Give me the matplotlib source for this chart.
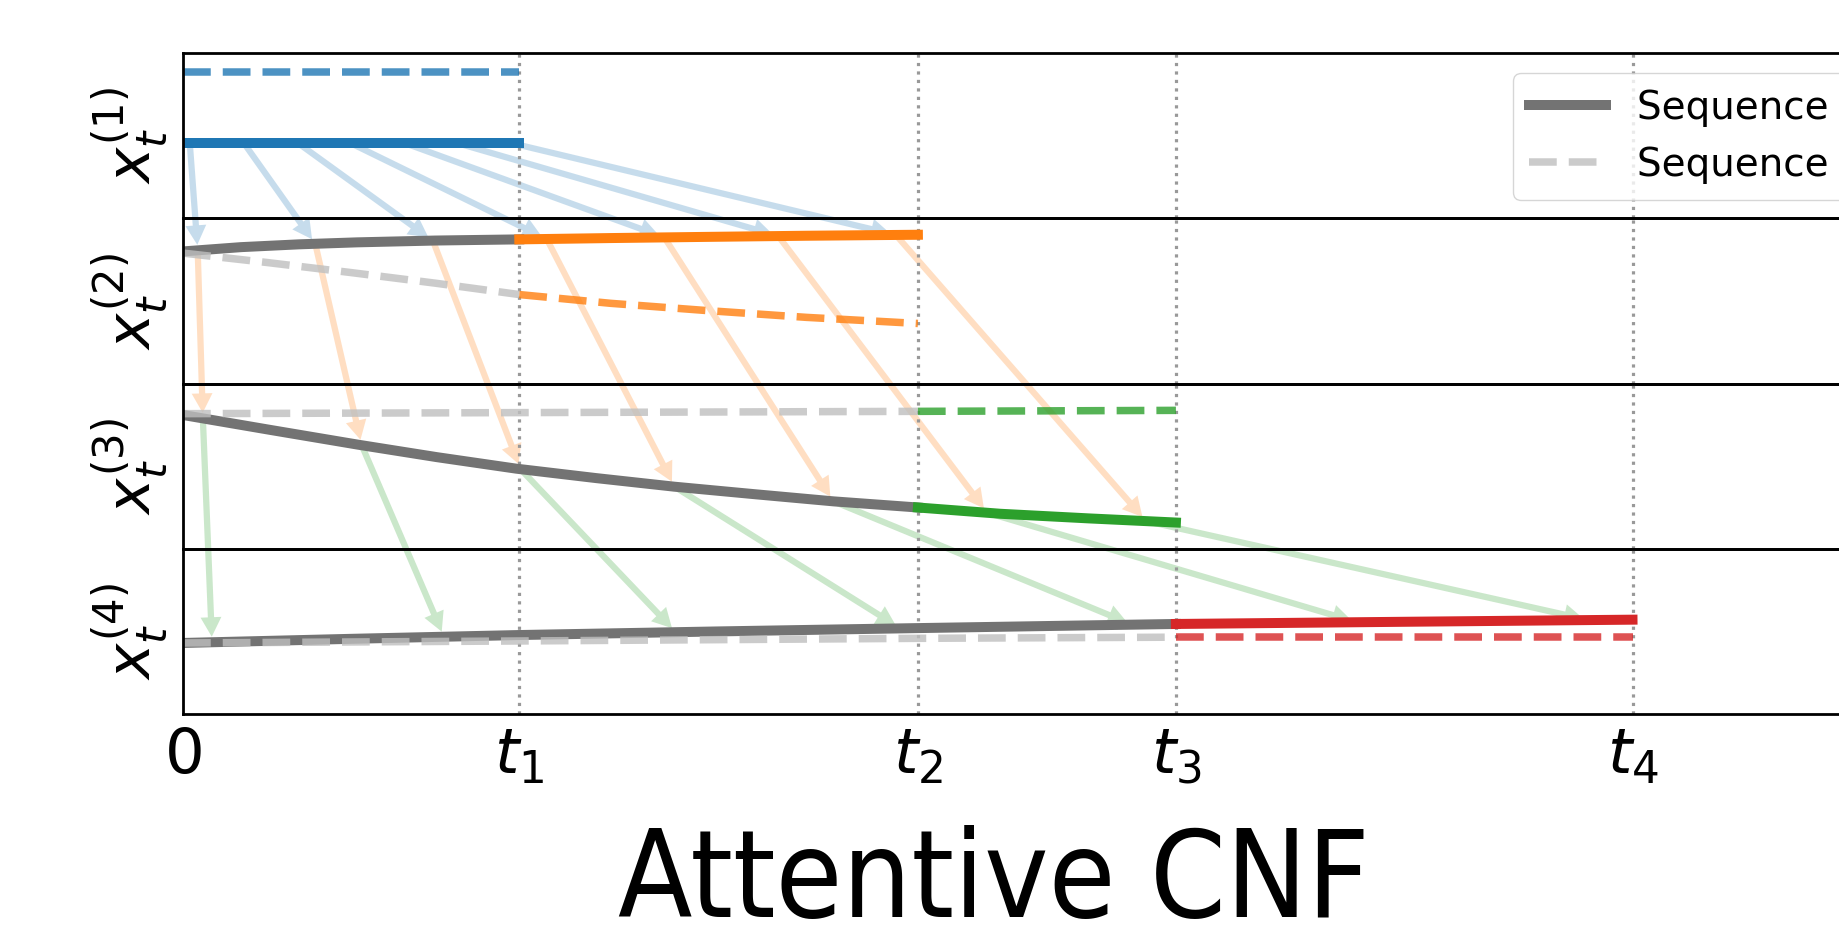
import numpy as np
import matplotlib
matplotlib.use('Agg')
import matplotlib.pyplot as plt
from matplotlib.patches import ConnectionPatch
from matplotlib.lines import Line2D

# event times t1..t4 on the shared time axis
t_events = [2.32, 5.07, 6.85, 10.0]
tick_labels = ['$0$', '$t_1$', '$t_2$', '$t_3$', '$t_4$']
row_labels = ['$x_t^{(1)}$', '$x_t^{(2)}$', '$x_t^{(3)}$', '$x_t^{(4)}$']
colors = ['tab:blue', 'tab:orange', 'tab:green', 'tab:red']
legend_labels = ['Sequence 1', 'Sequence 2']

# sequence 1 (solid) per row
solid_t = [
    [0, 2.32],
    [0, 0.4, 0.8, 1.2, 1.74, 2.32, 2.95, 3.6, 4.3, 5.07],
    [0, 0.6, 1.21, 1.75, 2.30, 2.85, 3.39, 3.95, 4.49, 5.07, 5.64, 6.25, 6.85],
    [0, 1.16, 2.32, 3.7, 5.07, 6.85, 8.4, 10.0],
]
solid_v = [
    [0.459, 0.459],
    [0.80, 0.826, 0.843, 0.855, 0.866, 0.873, 0.881, 0.888, 0.895, 0.901],
    [0.81, 0.72, 0.63, 0.555, 0.485, 0.428, 0.376, 0.33, 0.287, 0.25, 0.212, 0.184, 0.159],
    [0.43, 0.455, 0.478, 0.50, 0.52, 0.545, 0.558, 0.571],
]

# sequence 2 (dashed) per row
dash_t = [
    [0, 2.32],
    [0, 0.58, 1.16, 1.74, 2.32, 2.95, 3.6, 4.3, 5.07],
    [0, 5.07, 6.85],
    [0, 2.32, 5.07, 6.85, 10.0],
]
dash_v = [
    [0.889, 0.889],
    [0.79, 0.733, 0.672, 0.608, 0.539, 0.486, 0.443, 0.401, 0.364],
    [0.818, 0.832, 0.838],
    [0.43, 0.442, 0.458, 0.465, 0.465],
]

# where the attention arrows leave / land, as a fraction of each row's span
arrow_frac = [0.02, 0.18, 0.34, 0.495, 0.655, 0.81, 0.97]

solid_gray = '0.45'
dash_gray = '0.75'
lw_solid = 7.2
lw_dash = 5.4

fig = plt.figure(figsize=(18.39, 9.30), dpi=100)

left = 183 / 1839
width = 12 * 144.95 / 1839
h = 165.2 / 930
bottom = 1 - 714 / 930
axes = []
for k in range(4):
    ax = fig.add_axes([left, bottom + (3 - k) * h, width, h])
    ax.set_facecolor('none')
    axes.append(ax)

ticks = [0] + t_events
for k, ax in enumerate(axes):
    ax.set_xlim(0, 12)
    ax.set_ylim(0, 1)
    ax.set_yticks([])
    ax.set_xticks(ticks)
    ax.tick_params(axis='x', length=0, pad=9, labelsize=45)
    if k < 3:
        ax.set_xticklabels([])
    else:
        ax.set_xticklabels(tick_labels)
    for s in ax.spines.values():
        s.set_linewidth(2.0)
    ax.set_ylabel(row_labels[k], fontsize=43, labelpad=9)
    for t in t_events:
        ax.axvline(t, color='0.6', ls=':', lw=2.3, zorder=1)

    ts, vs = np.array(solid_t[k]), np.array(solid_v[k])
    td, vd = np.array(dash_t[k]), np.array(dash_v[k])
    t0 = 0 if k == 0 else t_events[k - 1]
    if k > 0:
        ax.plot(ts[ts <= t0], vs[ts <= t0], color=solid_gray, lw=lw_solid,
                solid_capstyle='projecting')
    ax.plot(ts[ts >= t0], vs[ts >= t0], color=colors[k], lw=lw_solid,
            solid_capstyle='projecting')
    if k > 0:
        ax.plot(td[td <= t0], vd[td <= t0], color=dash_gray, alpha=0.8,
                lw=lw_dash, ls='--')
    ax.plot(td[td >= t0], vd[td >= t0], color=colors[k], alpha=0.8,
            lw=lw_dash, ls='--')

# arrows from each row's trajectory into the next row
for k in range(3):
    for f in arrow_frac:
        ta = f * t_events[k]
        tb = f * t_events[k + 1]
        ya = np.interp(ta, solid_t[k], solid_v[k])
        yb = np.interp(tb, solid_t[k + 1], solid_v[k + 1])
        con = ConnectionPatch(xyA=(ta, ya), coordsA=axes[k].transData,
                              xyB=(tb, yb), coordsB=axes[k + 1].transData,
                              arrowstyle='simple,head_length=1.4,head_width=1.5,tail_width=0.45',
                              mutation_scale=10, color=colors[k], alpha=0.25, lw=0,
                              shrinkA=0, shrinkB=4, zorder=-1)
        fig.add_artist(con)

handles = [Line2D([], [], color=solid_gray, lw=lw_solid, solid_capstyle='projecting'),
           Line2D([], [], color=dash_gray, alpha=0.8, lw=lw_dash, ls='--')]
axes[0].legend(handles, legend_labels, loc='upper left', fontsize=28,
               bbox_to_anchor=(1513 / 1839, 1 - 73 / 930),
               bbox_transform=fig.transFigure, borderaxespad=0)

fig.text(993.5 / 1839, 1 - 917 / 930, 'Attentive CNF', ha='center', va='baseline',
         fontsize=87, family='DejaVu Sans', stretch='condensed')

fig.savefig('out.png', dpi=100)
